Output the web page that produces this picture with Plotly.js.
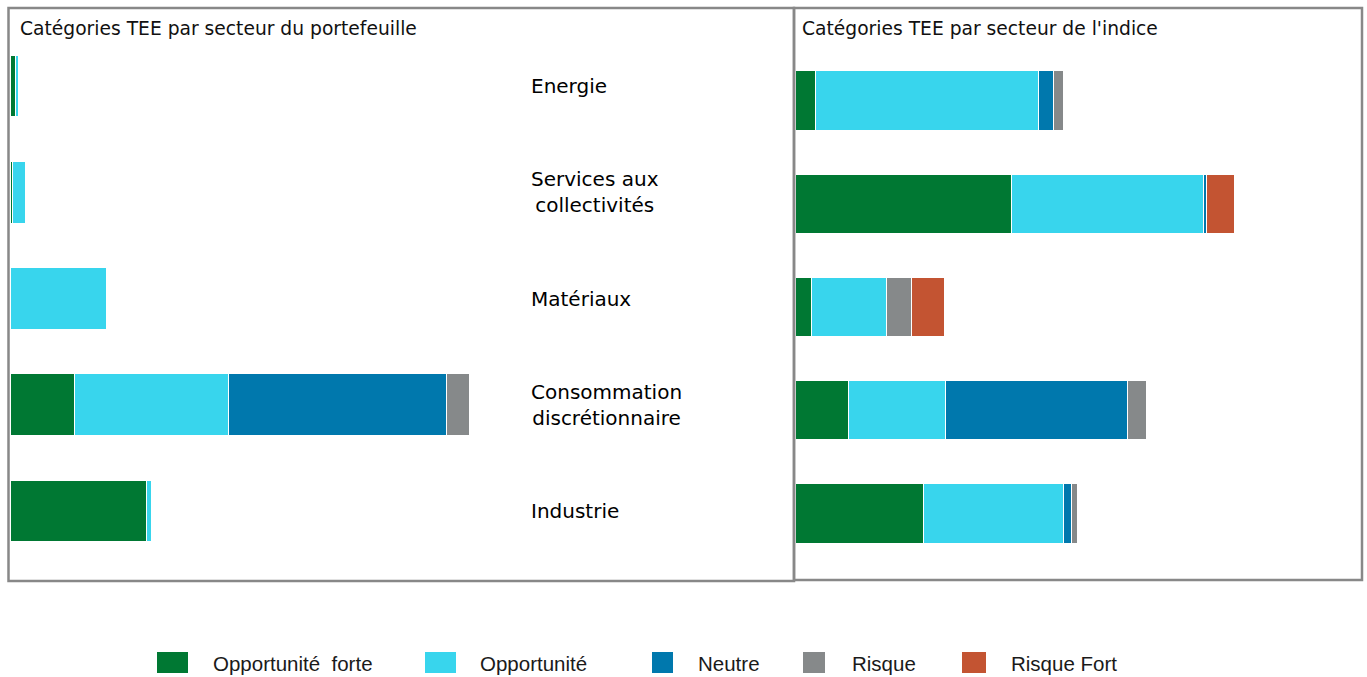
<!DOCTYPE html>
<html>
<head>
<meta charset="utf-8">
<script src="https://cdn.plot.ly/plotly-3.0.1.min.js"></script>
<style>html,body{margin:0;padding:0;background:#fff;}#chart{width:1367px;height:677px;}</style>
</head>
<body>
<div id="chart"></div>
<script>
// ---- Data (weights in %) ----
const sectors = ["Energie", "Services aux collectivités", "Matériaux", "Consommation discrétionnaire", "Industrie"];
const sectorLabels = ["Energie", "Services aux<br>collectivités", "Matériaux", "Consommation<br>discrétionnaire", "Industrie"];
const seriesNames = ["Opportunité  forte", "Opportunité", "Neutre", "Risque", "Risque Fort"];
const seriesColors = ["#007833", "#38D5ED", "#0078AD", "#86898A", "#C35432"];

// Portfolio (left panel)
const portOppForte = [0.7, 0.3, 0.0, 9.0, 18.9];
const portOpp      = [0.5, 1.9, 13.3, 21.3, 0.65];
const portNeutre   = [0.0, 0.0, 0.0, 30.2, 0.0];
const portRisque   = [0.0, 0.0, 0.0, 3.1, 0.0];
const portRisqueF  = [0.0, 0.0, 0.0, 0.0, 0.0];

// Index (right panel)
const idxOppForte = [1.35, 14.4, 1.1, 3.55, 8.55];
const idxOpp      = [14.85, 12.8, 5.0, 6.45, 9.3];
const idxNeutre   = [1.0, 0.2, 0.0, 12.15, 0.55];
const idxRisque   = [0.65, 0.0, 1.65, 1.25, 0.4];
const idxRisqueF  = [0.0, 1.85, 2.2, 0.0, 0.0];

const titleLeft = "Catégories TEE par secteur du portefeuille";
const titleRight = "Catégories TEE par secteur de l'indice";

// ---- Build traces ----
const W = 1367, H = 677;
const px = v => v / W;
const py = v => 1 - v / H;

const portSeries = [portOppForte, portOpp, portNeutre, portRisque, portRisqueF];
const idxSeries = [idxOppForte, idxOpp, idxNeutre, idxRisque, idxRisqueF];

const traces = [];
portSeries.forEach((vals, i) => {
  traces.push({
    type: "bar", orientation: "h", name: seriesNames[i],
    x: vals, y: sectors, xaxis: "x", yaxis: "y",
    width: 0.58,
    marker: {color: seriesColors[i], line: {color: "#ffffff", width: 1}},
    showlegend: false, hoverinfo: "skip"
  });
});
idxSeries.forEach((vals, i) => {
  traces.push({
    type: "bar", orientation: "h", name: seriesNames[i],
    x: vals, y: sectors, xaxis: "x2", yaxis: "y2",
    width: 0.576,
    marker: {color: seriesColors[i], line: {color: "#ffffff", width: 1}},
    showlegend: false, hoverinfo: "skip"
  });
});

const hiddenAxis = {showgrid: false, zeroline: false, showticklabels: false, showline: false, ticks: "", fixedrange: true};

const annotations = [];
// panel titles
annotations.push({xref: "paper", yref: "paper", x: px(18), y: py(28), xanchor: "left", yanchor: "middle",
  text: titleLeft, showarrow: false, font: {family: "DejaVu Sans", size: 18.7, color: "#111111"}});
annotations.push({xref: "paper", yref: "paper", x: px(800), y: py(28), xanchor: "left", yanchor: "middle",
  text: titleRight, showarrow: false, font: {family: "DejaVu Sans", size: 18.7, color: "#111111"}});
// sector labels
sectors.forEach((s, i) => {
  annotations.push({xref: "paper", yref: "y", x: px(529), y: s, xanchor: "left", yanchor: "middle",
    align: "center", text: sectorLabels[i], showarrow: false,
    font: {family: "DejaVu Sans", size: 20, color: "#000000"}});
});

// custom legend
const legSquareX = [157, 425, 652, 803, 962];
const legSquareW = [31, 31, 21, 22, 24];
const legTextX = [211, 478, 696, 850, 1009];
const shapes = [];
seriesNames.forEach((n, i) => {
  shapes.push({type: "rect", xref: "paper", yref: "paper",
    x0: px(legSquareX[i]), x1: px(legSquareX[i] + legSquareW[i]), y0: py(673), y1: py(652),
    fillcolor: seriesColors[i], line: {width: 0}});
  annotations.push({xref: "paper", yref: "paper", x: px(legTextX[i]), y: py(663), xanchor: "left", yanchor: "middle",
    text: n.replace(/ /g, "&nbsp;"), showarrow: false, font: {family: "Liberation Sans", size: 20.5, color: "#1a1a1a"}});
});
// panel frames
shapes.push({type: "rect", xref: "paper", yref: "paper", x0: px(8.5), x1: px(794), y0: py(581), y1: py(8),
  line: {color: "#888888", width: 2.5}, fillcolor: "rgba(0,0,0,0)", layer: "above"});
shapes.push({type: "rect", xref: "paper", yref: "paper", x0: px(794), x1: px(1362), y0: py(580), y1: py(8),
  line: {color: "#888888", width: 2.5}, fillcolor: "rgba(0,0,0,0)", layer: "above"});

const layout = {
  width: W, height: H,
  margin: {l: 0, r: 0, t: 0, b: 0, pad: 0},
  paper_bgcolor: "#ffffff", plot_bgcolor: "rgba(0,0,0,0)",
  barmode: "stack",
  showlegend: false,
  xaxis: Object.assign({}, hiddenAxis, {domain: [px(10), px(794)], range: [0, 784 / 7.22], anchor: "y"}),
  yaxis: Object.assign({}, hiddenAxis, {domain: [py(564.1), py(32.9)], type: "category",
    categoryorder: "array", categoryarray: sectors, range: [4.5, -0.5], anchor: "x"}),
  xaxis2: Object.assign({}, hiddenAxis, {domain: [px(795), px(1362)], range: [0, 567 / 15.02], anchor: "y2"}),
  yaxis2: Object.assign({}, hiddenAxis, {domain: [py(565.1), py(48.9)], type: "category",
    categoryorder: "array", categoryarray: sectors, range: [4.5, -0.5], anchor: "x2"}),
  annotations: annotations,
  shapes: shapes
};

Plotly.newPlot("chart", traces, layout, {displayModeBar: false, staticPlot: true});
</script>
</body>
</html>
